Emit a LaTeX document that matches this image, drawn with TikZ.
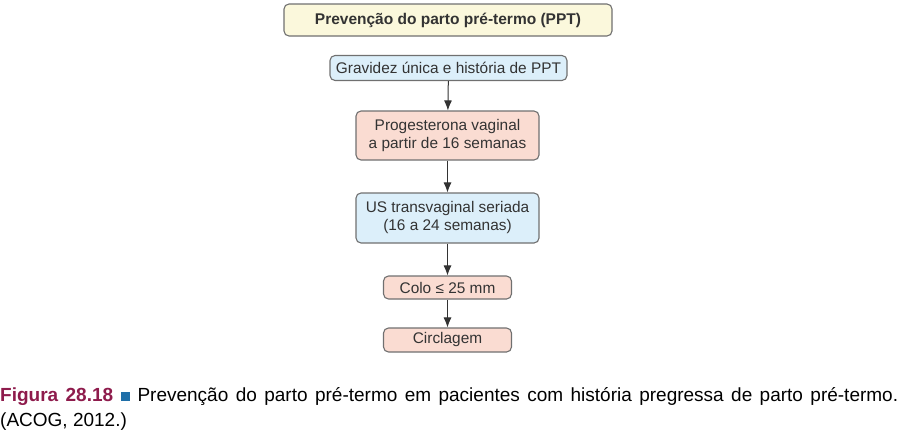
\documentclass[tikz,border=0pt]{standalone}
\usepackage{fontspec}
\setmainfont{Liberation Sans}
\usepackage{tikz}
\usetikzlibrary{arrows.meta}
\definecolor{boxline}{HTML}{707070}
\definecolor{boxtext}{HTML}{333333}
\definecolor{yellowbox}{HTML}{FBF8DC}
\definecolor{bluebox}{HTML}{DCEFFA}
\definecolor{pinkbox}{HTML}{FADCD2}
\definecolor{capred}{HTML}{8E1B4C}
\definecolor{capblue}{HTML}{1F6FA8}

\begin{document}
\begin{tikzpicture}[x=1pt,y=1pt,
  box/.style={draw=boxline,line width=1.1pt,rounded corners=5pt,align=center,
    text=boxtext,inner sep=0pt,font=\fontsize{15.4}{18}\selectfont},
  seta/.style={draw=boxtext,line width=1pt,-{Latex[length=10pt,width=8pt]}}]
\useasboundingbox (0,0) rectangle (902,-445);

\node[box,fill=yellowbox,minimum width=328,minimum height=32,font=\bfseries\fontsize{15.5}{18}\selectfont] (titulo) at (448,-20) {Prevenção do parto pré-termo (PPT)};
\node[box,fill=bluebox,minimum width=237,minimum height=25] (gravidez) at (448.5,-68) {Gravidez única e história de PPT};
\node[box,fill=pinkbox,minimum width=183,minimum height=49] (progest) at (447.5,-135.5) {Progesterona vaginal\\a partir de 16 semanas};
\node[box,fill=pinkbox,minimum width=128,minimum height=23] (colo) at (447.5,-287.5) {Colo ≤ 25 mm};
\node[box,fill=bluebox,minimum width=183,minimum height=50] (usg) at (447.5,-218) {US transvaginal seriada\\(16 a 24 semanas)};
\node[box,fill=pinkbox,minimum width=128,minimum height=24] (circ) at (447.5,-340) {Circlagem};

\draw[seta] (gravidez) -- (progest);
\draw[seta] (progest) -- (usg);
\draw[seta] (usg) -- (colo);
\draw[seta] (colo) -- (circ);

\node[anchor=north west,inner sep=0pt,text width=898pt,align=justify,
  font=\fontsize{19}{25}\selectfont] (legenda) at (0,-387)
  {\textcolor{capred}{\textbf{Figura 28.18}} \textcolor{capblue}{\rule{9.5pt}{9.5pt}} Prevenção do parto pré-termo em pacientes com história pregressa de parto pré-termo.\linebreak (ACOG, 2012.)};
\end{tikzpicture}
\end{document}
